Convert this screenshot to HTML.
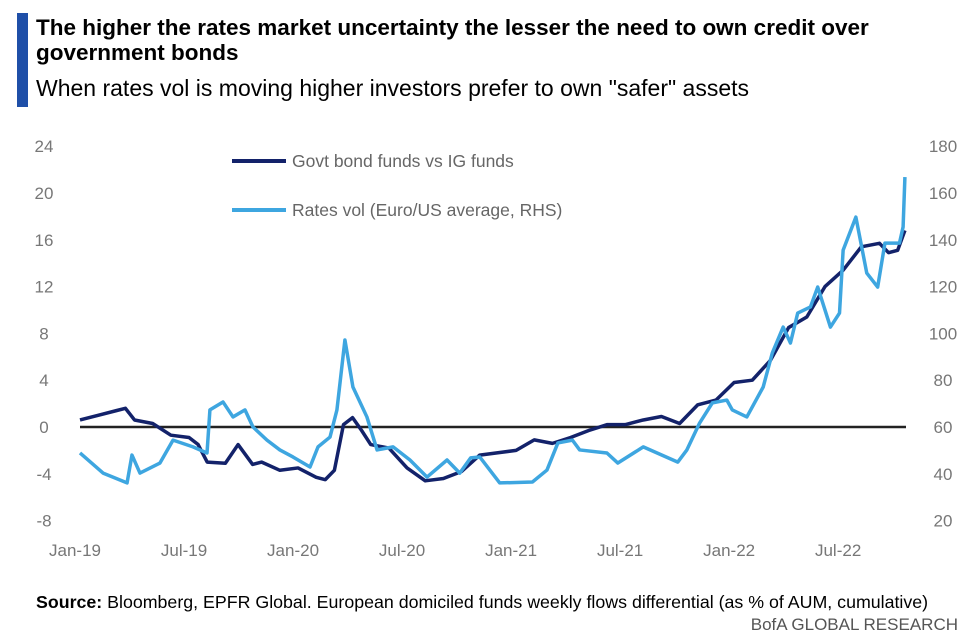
<!DOCTYPE html>
<html><head><meta charset="utf-8"><style>
body{margin:0;width:974px;height:640px;background:#fff;overflow:hidden;font-family:"Liberation Sans",sans-serif;position:relative}
.t{position:absolute;left:36px;color:#000}
</style></head><body>
<div style="position:absolute;left:17px;top:13px;width:11px;height:94px;background:#1f4fa8"></div>
<div class="t" style="top:15px;font-weight:bold;font-size:22.5px;line-height:25px;width:880px">The higher the rates market uncertainty the lesser the need to own credit over government bonds</div>
<div class="t" style="top:75px;font-size:23px">When rates vol is moving higher investors prefer to own "safer" assets</div>
<svg id="chart" width="974" height="640" style="position:absolute;left:0;top:0"></svg>
<div style="position:absolute;left:36px;top:592px;font-size:17.8px"><b>Source:</b> Bloomberg, EPFR Global. European domiciled funds weekly flows differential (as % of AUM, cumulative)</div>
<div style="position:absolute;right:16px;top:615px;font-size:17px;color:#555">BofA GLOBAL RESEARCH</div>
<script>
const leftTicks=[24,20,16,12,8,4,0,-4,-8];
const rightTicks=[180,160,140,120,100,80,60,40,20];
const xLabels=["Jan-19","Jul-19","Jan-20","Jul-20","Jan-21","Jul-21","Jan-22","Jul-22"];
const xLabelMonths=[0,6,12,18,24,30,36,42];
const govtMonths=[0,1,2,2.5,3,4,5,6,6.5,7,8,8.7,9.5,10,11,12,13,13.5,14,14.5,15,15.5,16,17,18,19,20,21,22,23,24,25,26,27,28,29,30,31,32,33,34,35,36,37,38,39,40,41,42,43,44,44.5,45,45.4];
const govtVals=[0.6,1.0,1.4,1.6,0.6,0.3,-0.7,-0.9,-1.5,-3.0,-3.1,-1.5,-3.2,-3.0,-3.7,-3.5,-4.3,-4.5,-3.7,0.2,0.8,-0.3,-1.5,-1.8,-3.5,-4.6,-4.4,-3.8,-2.4,-2.2,-2.0,-1.1,-1.4,-0.9,-0.3,0.2,0.2,0.6,0.9,0.3,1.9,2.3,3.8,4.0,5.7,8.5,9.4,12.0,13.4,15.4,15.7,14.9,15.1,16.8];
const volMonths=[0,1.27,2.59,2.86,3.3,4.4,5.12,6.22,6.99,7.15,7.87,8.42,9.08,9.52,10.29,11.0,11.72,12.66,13.1,13.76,14.14,14.58,15.02,15.79,16.35,17.23,18.16,19.1,20.2,20.9,21.5,22.0,23.1,24.9,25.7,26.3,27.1,27.5,29.0,29.6,31.0,32.9,33.4,34.1,34.8,35.6,35.9,36.7,37.6,38.1,38.7,39.1,39.5,40.2,40.6,41.3,41.8,42.0,42.7,43.3,43.9,44.3,45.1,45.3,45.4];
const volVals=[48.9,40.3,36.1,48.0,40.3,44.6,54.4,51.5,48.9,67.3,70.7,64.3,67.3,60,54.4,50.2,47.2,42.9,51.5,55.7,67.3,97.2,77.1,64.3,50.2,51.5,45.9,38.6,45.9,40.3,46.8,47.2,36.1,36.5,41.6,53.2,54.4,50.2,48.9,44.6,51.5,45.0,50.2,61.7,70.3,71.5,67.3,64.3,77.1,91.6,102.7,95.9,108.7,111.3,119.8,102.7,108.7,135.6,149.7,125.8,119.8,138.6,138.6,145.5,166.8];
const NS="http://www.w3.org/2000/svg";
const svg=document.getElementById('chart');
const X=m=>80+m*18.17;
const YL=v=>427-v*11.7;
const YR=v=>427-(v-60)*2.34;
function mk(tag,attrs){const e=document.createElementNS(NS,tag);for(const k in attrs)e.setAttribute(k,attrs[k]);svg.appendChild(e);return e;}
leftTicks.forEach(v=>{const t=mk('text',{x:44,y:YL(v)+6,'text-anchor':'middle','font-size':17,fill:'#777'});t.textContent=v;

});
rightTicks.forEach(v=>{const t=mk('text',{x:943,y:YR(v)+6,'text-anchor':'middle','font-size':17,fill:'#777'});t.textContent=v;

});
xLabels.forEach((l,i)=>{const t=mk('text',{x:X(xLabelMonths[i])-5,y:556,'text-anchor':'middle','font-size':17,fill:'#777'});t.textContent=l;

});
const z=mk('line',{x1:80,x2:906,y1:YL(0),y2:YL(0),stroke:'#222','stroke-width':2.5});


function line(ms,vs,yf,col,name){const p=mk('polyline',{points:ms.map((m,i)=>X(m)+','+yf(vs[i])).join(' '),fill:'none',stroke:col,'stroke-width':3.5,'stroke-linejoin':'round'});

}
line(govtMonths,govtVals,YL,'#13226a','govt-vs-ig-line');
line(volMonths,volVals,YR,'#3ea6e0','rates-vol-line');
const l1=mk('line',{x1:232,x2:286,y1:161,y2:161,stroke:'#13226a','stroke-width':4});


const t1=mk('text',{x:292,y:167,'font-size':17.5,fill:'#666'});t1.textContent='Govt bond funds vs IG funds';


const l2=mk('line',{x1:232,x2:286,y1:210,y2:210,stroke:'#3ea6e0','stroke-width':4});


const t2=mk('text',{x:292,y:216,'font-size':17.5,fill:'#666'});t2.textContent='Rates vol (Euro/US average, RHS)';


</script>
</body></html>
